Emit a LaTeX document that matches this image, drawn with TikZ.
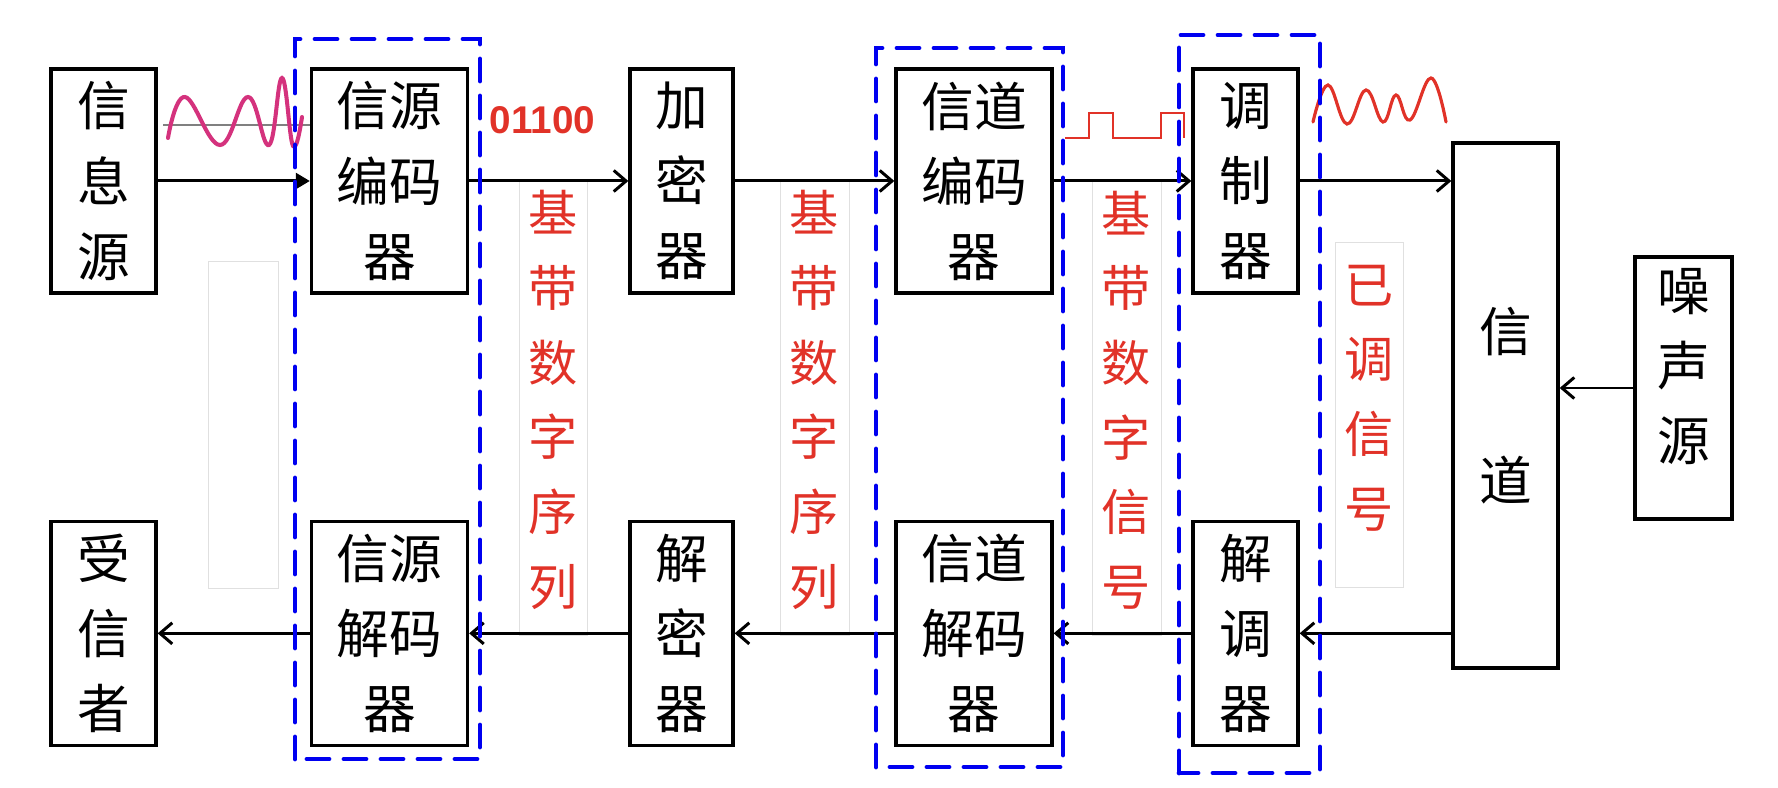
\documentclass[tikz,border=0pt]{standalone}
\usepackage{fontspec}
\newfontfamily\cjk{Noto Sans CJK SC}
\newfontfamily\arialfont{Liberation Sans}
\usepackage{xcolor}
\usetikzlibrary{arrows.meta, positioning, calc}

\definecolor{sigred}{RGB}{225,50,40}
\definecolor{sigpink}{RGB}{212,50,125}
\definecolor{groupblue}{RGB}{0,0,240}

\begin{document}
\begin{tikzpicture}[
    node distance=4.5cm and 3cm,
    every node/.style={font=\cjk\fontsize{30}{42.7}\selectfont, align=center, inner sep=0pt},
    block/.style={rectangle, draw, line width=1.9pt, minimum width=2.1cm, minimum height=4.48cm},
    wideblock/.style={block, minimum width=3.12cm},
    tag/.style={text=sigred, font=\cjk\fontsize{28}{42.5}\selectfont},
    tagbox/.style={draw=black!12, line width=0.5pt},
    arrow/.style={-{Straight Barb[length=7pt, width=12pt]}, line width=1.7pt},
    group/.style={draw=groupblue, line width=2.7pt, dash pattern=on 0.44cm off 0.3cm, line cap=round}
]
\useasboundingbox (0,0) rectangle (35.56,15.76);

% Label backgrounds
\draw [tagbox] (4.16,4.0) rectangle (5.56,10.54);
\draw [tagbox] (10.38,3.06) rectangle (11.74,12.16);
\draw [tagbox] (15.6,3.06) rectangle (16.98,12.16);
\draw [tagbox] (21.84,3.06) rectangle (23.22,12.16);
\draw [tagbox] (26.7,4.02) rectangle (28.06,10.92);

% Transmitter chain
\node (src) [block] at (2.07,12.14) {信\\息\\源};
\node (srcenc) [wideblock] at (7.79,12.14) {信源\\编码\\器};
\node (encr) [block, minimum width=2.06cm] at (13.63,12.14) {加\\密\\器};
\node (chenc) [wideblock] at (19.48,12.14) {信道\\编码\\器};
\node (modu) [block] at (24.91,12.14) {调\\制\\器};

% Channel and noise
\node (chan) [block, minimum height=10.5cm] at (30.11,7.65) {信\\[1.48cm]道};
\node (noise) [block, minimum width=1.94cm, minimum height=5.24cm] at (33.67,8.0) {};
\node (noisetext) at (33.67,8.42) {噪\\声\\源};

% Receiver chain
\node (sink) [block, below=of src] {受\\信\\者};
\node (srcdec) [wideblock, below=of srcenc] {信源\\解码\\器};
\node (decr) [block, minimum width=2.06cm, below=of encr] {解\\密\\器};
\node (chdec) [wideblock, below=of chenc] {信道\\解码\\器};
\node (demod) [block, below=of modu] {解\\调\\器};

% Arrows
\draw [arrow, -{Triangle[length=8pt, width=9pt]}] (src) -- (srcenc);
\draw [arrow] (srcenc) -- (encr);
\draw [arrow] (encr) -- (chenc);
\draw [arrow] (chenc) -- (modu);
\draw [arrow] (modu.east) -- (modu.east -| chan.west);
\draw [arrow] (noise.west) -- (noise.west -| chan.east);
\draw [arrow] (chan.west |- demod.east) -- (demod.east);
\draw [arrow] (demod) -- (chdec);
\draw [arrow] (chdec) -- (decr);
\draw [arrow] (decr) -- (srcdec);
\draw [arrow] (srcdec) -- (sink);

% Signal sketches
\draw [gray, line width=0.7pt] (3.26,13.26) -- (6.2,13.26);
\draw [sigpink, line width=2.3pt, line cap=round] plot [smooth, tension=0.7] coordinates
    {(3.36,13.0) (3.70,13.82) (4.40,12.86) (4.96,13.82) (5.38,12.86) (5.64,14.2) (5.86,12.84) (6.04,13.42)};
\node (bits) [font=\arialfont\bfseries\fontsize{22}{24}\selectfont, text=sigred] at (10.85,13.36) {01100};
\draw [sigred, line width=1pt] (21.3,13.0) -- (21.78,13.0) -- (21.78,13.5) -- (22.26,13.5) -- (22.26,13.0)
    -- (23.22,13.0) -- (23.22,13.5) -- (23.68,13.5) -- (23.68,13.0);
\draw [sigred, line width=1.8pt, line cap=round] plot [smooth, tension=0.7] coordinates
    {(26.26,13.32) (26.56,14.06) (26.94,13.28) (27.32,13.96) (27.66,13.32) (27.92,13.86) (28.2,13.36) (28.62,14.2) (28.92,13.32)};

% Signal names
\node (tag1) [tag] at (11.06,7.76) {基\\带\\数\\字\\序\\列};
\node (tag2) [tag] at (16.28,7.76) {基\\带\\数\\字\\序\\列};
\node (tag3) [tag] at (22.52,7.76) {基\\带\\数\\字\\信\\号};
\node (tag4) [tag] at (27.38,7.8) {已\\调\\信\\号};

% Dashed groups
\draw [group] (5.9,0.58) rectangle (9.6,14.98);
\draw [group] (17.52,0.42) rectangle (21.26,14.8);
\draw [group] (23.58,0.3) rectangle (26.4,15.06);

\end{tikzpicture}
\end{document}
